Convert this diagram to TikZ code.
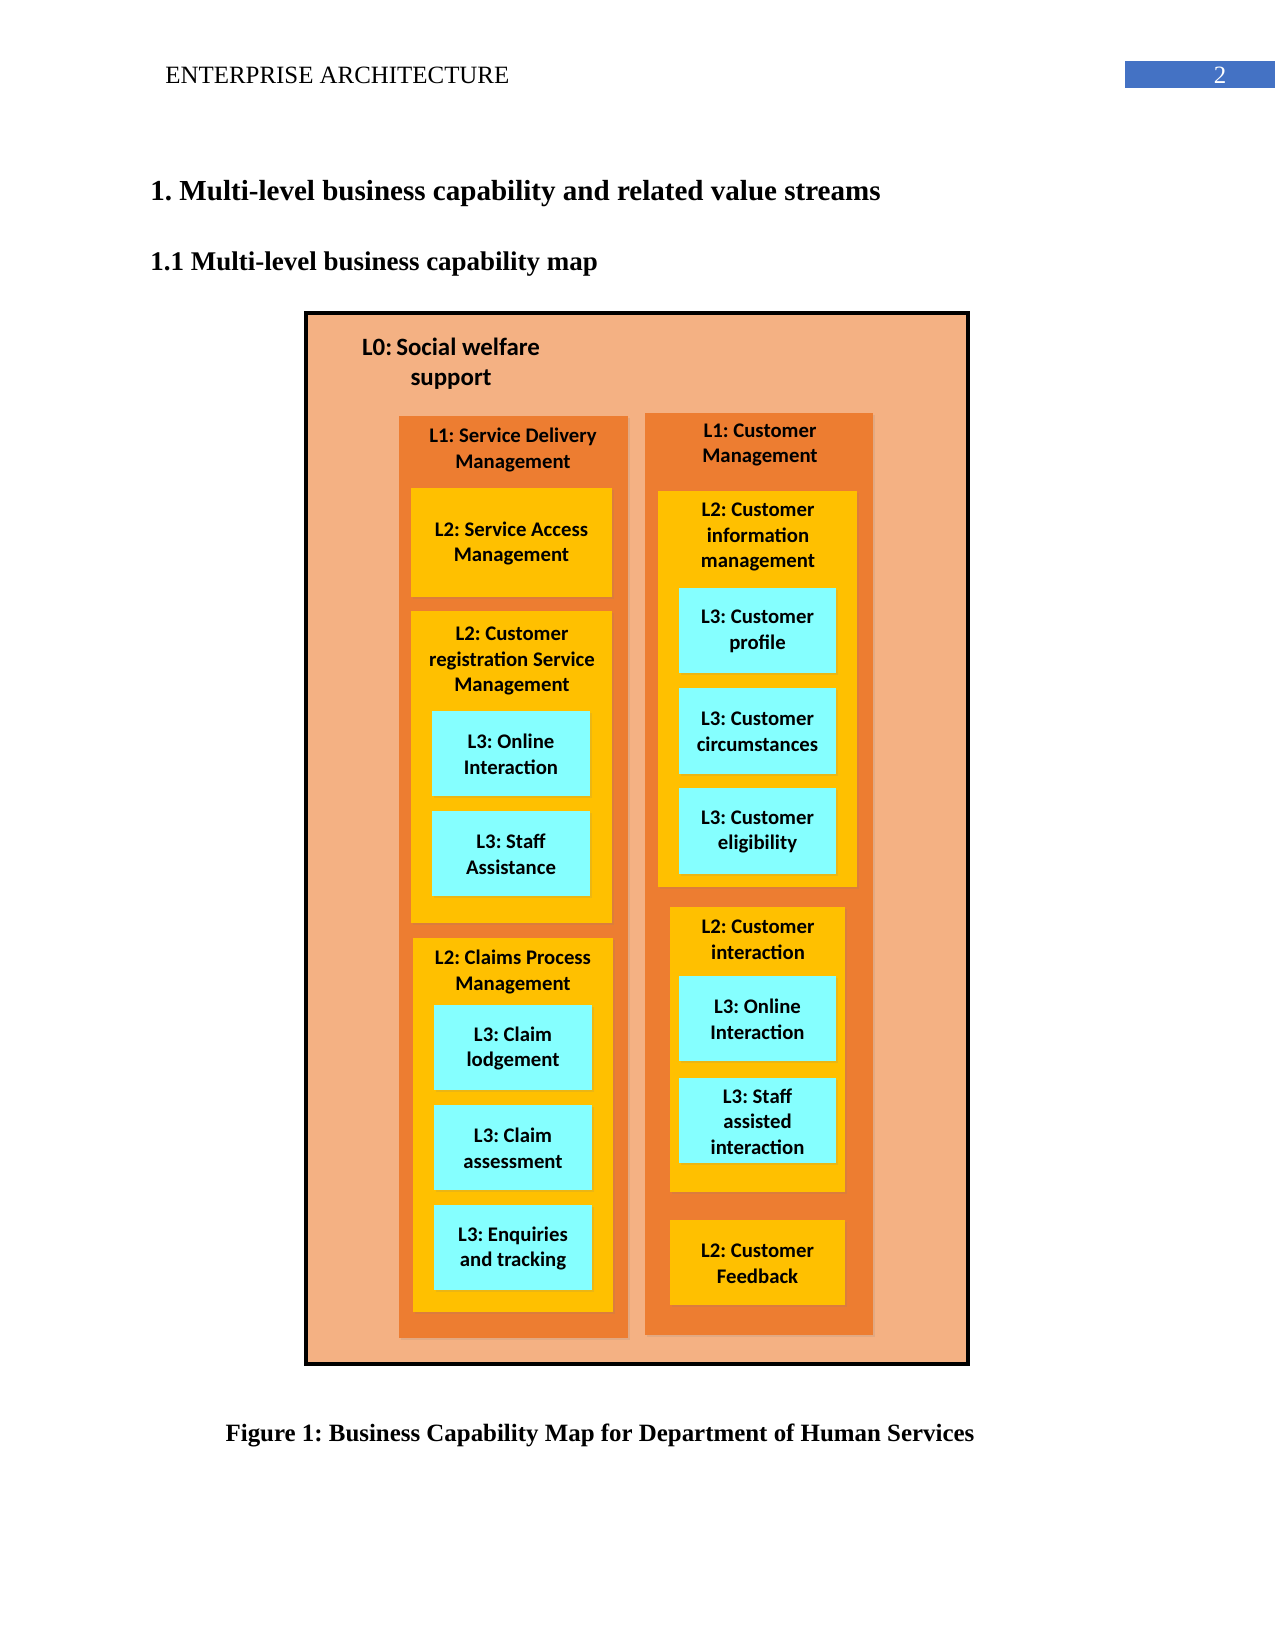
\documentclass[tikz,border=0pt]{standalone}
\usepackage{fontspec}
\setmainfont{Liberation Serif}
\newfontfamily\capfont{Carlito}
\usetikzlibrary{fit, shadows}
\frenchspacing

\definecolor{lzerofill}{HTML}{F4B183}
\definecolor{lonefill}{HTML}{ED7D31}
\definecolor{ltwofill}{HTML}{FFC000}
\definecolor{lthreefill}{HTML}{85FFFF}
\definecolor{bandblue}{HTML}{4472C4}

\begin{document}
\begin{tikzpicture}[
    x=0.4818pt, y=-0.4818pt,
    lzero/.style={
        rectangle,
        draw=black,
        line width=1.6pt,
        fill=lzerofill,
        inner sep=0pt
    },
    lone/.style={
        rectangle,
        fill=lonefill,
        inner sep=0pt,
        drop shadow={shadow xshift=0.8pt, shadow yshift=-0.8pt, opacity=0.15}
    },
    ltwo/.style={
        rectangle,
        fill=ltwofill,
        inner sep=0pt,
        drop shadow={shadow xshift=0.8pt, shadow yshift=-0.8pt, opacity=0.15}
    },
    lthree/.style={
        rectangle,
        fill=lthreefill,
        inner sep=0pt,
        drop shadow={shadow xshift=0.8pt, shadow yshift=-0.8pt, opacity=0.15}
    },
    boxtitle/.style={
        align=center,
        inner sep=0pt,
        font=\capfont\bfseries\fontsize{10}{12.4}\selectfont
    },
    boxtext/.style={
        boxtitle,
        yshift=-0.5pt
    },
    roottitle/.style={
        align=center,
        inner sep=0pt,
        font=\capfont\bfseries\fontsize{12}{14.6}\selectfont
    },
    pagetext/.style={
        inner sep=0pt,
        font=\fontsize{12}{14.4}\selectfont
    },
    headtext/.style={
        inner sep=0pt,
        font=\bfseries\fontsize{14}{16.8}\selectfont
    },
    subheadtext/.style={
        inner sep=0pt,
        font=\bfseries\fontsize{13}{15.6}\selectfont
    },
    captiontext/.style={
        inner sep=0pt,
        font=\bfseries\fontsize{12}{14.4}\selectfont
    }
]
    \useasboundingbox (0,0) rectangle (1275,1650);

    % Page header and headings
    \node [pagetext, anchor=west] (runhead) at (165,75) {ENTERPRISE ARCHITECTURE};
    \node [fill=bandblue, inner sep=0pt, fit={(1125,61) (1275,88)}] (band) {};
    \node [pagetext, text=white] (pagenum) at (1220,75) {2};
    \node [headtext, anchor=west] (heading) at (150,194) {1. Multi-level business capability and related value streams};
    \node [subheadtext, anchor=west] (subheading) at (150,264) {1.1 Multi-level business capability map};

    % Level 0 and level 1
    \node [lzero, fit={(306,313) (968,1364)}] (social) {};
    \node [roottitle] (socialtitle) at (451,364) {L0:\,Social welfare\\support};
    \node [lone, fit={(399,416) (628,1338)}] (delivery) {};
    \node [boxtitle] (deliverytitle) at (513,450) {L1: Service Delivery\\Management};
    \node [lone, fit={(645,413) (873,1335)}] (customer) {};
    \node [boxtitle] (customertitle) at (760,445) {L1: Customer\\Management};

    % Left column
    \node [ltwo, fit={(411,488) (612,597)},
        label={[boxtext]center:{L2: Service Access\\Management}}] (access) {};
    \node [ltwo, fit={(411,611) (612,923)}] (registration) {};
    \node [boxtitle] (registrationtitle) at (512,661) {L2: Customer\\registration Service\\Management};
    \node [lthree, fit={(432,711) (590,796)},
        label={[boxtext]center:{L3: Online\\Interaction}}] (regonline) {};
    \node [lthree, fit={(432,811) (590,896)},
        label={[boxtext]center:{L3: Staff\\Assistance}}] (regstaff) {};
    \node [ltwo, fit={(413,938) (613,1312)}] (claims) {};
    \node [boxtitle] (claimstitle) at (513,972) {L2: Claims Process\\Management};
    \node [lthree, fit={(434,1005) (592,1090)},
        label={[boxtext]center:{L3: Claim\\lodgement}}] (lodgement) {};
    \node [lthree, fit={(434,1105) (592,1190)},
        label={[boxtext]center:{L3: Claim\\assessment}}] (assessment) {};
    \node [lthree, fit={(434,1205) (592,1290)},
        label={[boxtext]center:{L3: Enquiries\\and tracking}}] (enquiries) {};

    % Right column
    \node [ltwo, fit={(658,491) (857,887)}] (information) {};
    \node [boxtitle] (informationtitle) at (758,537) {L2: Customer\\information\\management};
    \node [lthree, fit={(679,588) (836,673)},
        label={[boxtext]center:{L3: Customer\\profile}}] (profile) {};
    \node [lthree, fit={(679,688) (836,774)},
        label={[boxtext]center:{L3: Customer\\circumstances}}] (circumstances) {};
    \node [lthree, fit={(679,788) (836,874)},
        label={[boxtext]center:{L3: Customer\\eligibility}}] (eligibility) {};
    \node [ltwo, fit={(670,907) (845,1192)}] (interaction) {};
    \node [boxtitle] (interactiontitle) at (758,940) {L2: Customer\\interaction};
    \node [lthree, fit={(679,976) (836,1061)},
        label={[boxtext]center:{L3: Online\\Interaction}}] (intonline) {};
    \node [lthree, fit={(679,1078) (836,1163)},
        label={[boxtext]center:{L3: Staff\\assisted\\interaction}}] (intstaff) {};
    \node [ltwo, fit={(670,1220) (845,1305)},
        label={[boxtext]center:{L2: Customer\\Feedback}}] (feedback) {};

    % Caption
    \node [captiontext] (caption) at (600,1435) {Figure 1: Business Capability Map for Department of Human Services};
\end{tikzpicture}
\end{document}
